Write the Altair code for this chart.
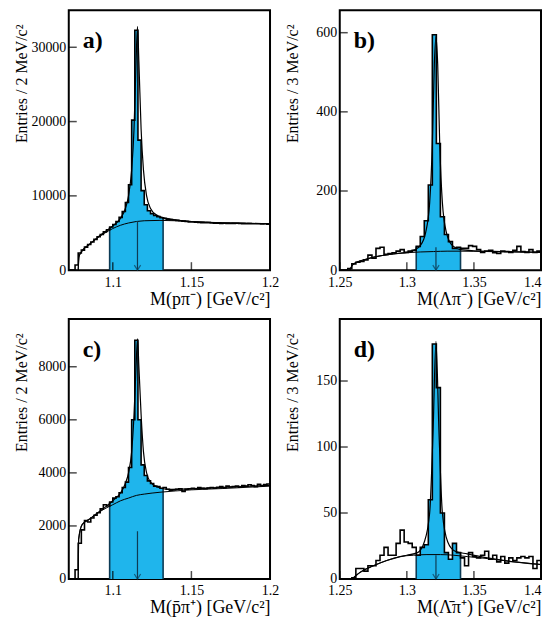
import altair as alt
import pandas as pd

FONT = "Liberation Serif"
BLUE = "#1fb5ec"
EDGE = "#0d3b55"

# ---------------- panel a: M(p pi-) , 2 MeV bins ----------------
a_start, a_width = 1.072, 0.002
a_counts = [0, 0, 700, 2300, 2700, 3100, 3450, 3800, 4150, 4500,
            4800, 5150, 5450, 5800, 6150, 6550, 7100, 7900, 9100, 11500,
            20200, 32300, 17500, 10700, 8800, 8000, 7600, 7350, 7200, 7050,
            6950, 6850, 6800, 6750, 6700, 6650, 6600, 6550, 6500, 6480,
            6450, 6420, 6400, 6380, 6400, 6350, 6330, 6330, 6300, 6320,
            6300, 6280, 6300, 6320, 6280, 6270, 6250, 6260, 6250, 6240,
            6250, 6230, 6250, 6200]
a_window = [1.098, 1.132]
a_fit_x = [1.078, 1.0785, 1.080, 1.085, 1.090, 1.095, 1.100, 1.105, 1.108, 1.110,
           1.112, 1.1135, 1.1148, 1.1157, 1.1166, 1.118, 1.1195, 1.1215, 1.124,
           1.128, 1.135, 1.145, 1.160, 1.180, 1.200]
a_fit_y = [0, 1800, 2450, 3450, 4350, 5150, 5950, 7000, 8300, 10000,
           13500, 19000, 28000, 32800, 28000, 19000, 13500, 10000, 8300,
           7400, 6950, 6650, 6450, 6320, 6250]
a_bg_x = [1.078, 1.0785, 1.080, 1.085, 1.090, 1.095, 1.100, 1.105, 1.110, 1.115,
          1.120, 1.130, 1.140, 1.150, 1.160, 1.180, 1.200]
a_bg_y = [0, 1800, 2450, 3450, 4300, 5000, 5600, 6050, 6350, 6550,
          6650, 6700, 6650, 6550, 6450, 6330, 6250]
a_arrow = [1.1157, 6600]
a_yticks = [0, 10000, 20000, 30000]
a_xticks = [1.1, 1.15, 1.2]

# ---------------- panel b: M(Lambda pi-) , 3 MeV bins ----------------
b_start, b_width = 1.25, 0.003
b_counts = [0, 0, 4, 16, 20, 22, 26, 38, 30, 55,
            58, 40, 42, 44, 48, 52, 45, 48, 50, 60,
            85, 125, 215, 595, 320, 135, 90, 72, 55, 58,
            55, 55, 62, 60, 52, 45, 48, 50, 44, 42,
            48, 47, 45, 50, 60, 47, 45, 52, 45, 48]
b_window = [1.307, 1.340]
b_fit_x = [1.2575, 1.260, 1.270, 1.280, 1.290, 1.300, 1.305, 1.310, 1.314, 1.317,
           1.319, 1.3205, 1.3217, 1.323, 1.3245, 1.3265, 1.3295, 1.334, 1.340,
           1.350, 1.370, 1.400]
b_fit_y = [0, 15, 28, 36, 41, 45, 50, 62, 95, 170,
           320, 520, 590, 520, 320, 170, 95, 62, 52,
           49, 47, 45]
b_bg_x = [1.2575, 1.260, 1.270, 1.280, 1.290, 1.300, 1.310, 1.320, 1.330, 1.340,
          1.360, 1.380, 1.400]
b_bg_y = [0, 15, 28, 36, 41, 44, 46, 47, 48, 48, 47, 46, 45]
b_arrow = [1.3217, 58]
b_yticks = [0, 200, 400, 600]
b_xticks = [1.25, 1.3, 1.35, 1.4]

# ---------------- panel c: M(pbar pi+) , 2 MeV bins ----------------
c_start, c_width = 1.072, 0.002
c_counts = [0, 0, 350, 1350, 1850, 2200, 2150, 2300, 2400, 2500,
            2650, 2800, 2750, 2900, 3050, 3100, 3250, 3450, 3650, 4200,
            6000, 9000, 6000, 4300, 3900, 3700, 3600, 3500, 3480, 3420,
            3450, 3380, 3350, 3360, 3380, 3400, 3300, 3380, 3400, 3420,
            3400, 3450, 3420, 3400, 3430, 3450, 3420, 3460, 3480, 3440,
            3500, 3470, 3480, 3500, 3460, 3520, 3500, 3550, 3520, 3480,
            3570, 3520, 3560, 3580]
c_window = [1.098, 1.132]
c_fit_x = [1.078, 1.0783, 1.0805, 1.085, 1.090, 1.095, 1.100, 1.105, 1.108, 1.110,
           1.112, 1.1135, 1.1148, 1.1157, 1.1166, 1.118, 1.1195, 1.1215, 1.124,
           1.128, 1.135, 1.150, 1.170, 1.200]
c_fit_y = [0, 1500, 2050, 2250, 2480, 2700, 2950, 3250, 3600, 4000,
           4800, 6200, 8000, 9050, 8000, 6200, 4800, 4000, 3650,
           3480, 3380, 3400, 3450, 3530]
c_bg_x = [1.078, 1.0783, 1.0805, 1.085, 1.090, 1.095, 1.100, 1.105, 1.110, 1.115,
          1.120, 1.130, 1.140, 1.150, 1.170, 1.200]
c_bg_y = [0, 1500, 2050, 2250, 2470, 2650, 2800, 2950, 3050, 3150,
          3200, 3270, 3320, 3360, 3410, 3500]
c_arrow = [1.1157, 1800]
c_yticks = [0, 2000, 4000, 6000, 8000]
c_xticks = [1.1, 1.15, 1.2]

# ---------------- panel d: M(Lambdabar pi+) , 3 MeV bins ----------------
d_start, d_width = 1.25, 0.003
d_counts = [0, 0, 0, 1, 8, 8, 6, 10, 10, 14,
            18, 24, 18, 18, 27, 37, 28, 27, 24, 18,
            24, 26, 60, 178, 145, 50, 20, 15, 27, 20,
            16, 10, 20, 17, 16, 18, 21, 15, 18, 13,
            17, 12, 16, 14, 16, 17, 16, 17, 8, 14]
d_window = [1.307, 1.340]
d_fit_x = [1.259, 1.265, 1.275, 1.285, 1.295, 1.300, 1.308, 1.313, 1.317, 1.3195,
           1.3217, 1.324, 1.3265, 1.3305, 1.336, 1.345, 1.360, 1.380, 1.400]
d_fit_y = [0, 5, 10, 14, 17, 18, 20, 28, 50, 110,
           180, 110, 50, 28, 21, 19, 16, 13, 11]
d_bg_x = [1.259, 1.265, 1.275, 1.285, 1.295, 1.305, 1.315, 1.325, 1.335, 1.345,
          1.360, 1.380, 1.400]
d_bg_y = [0, 5, 10, 14, 17, 18, 18.5, 18.5, 18, 17, 15.5, 13, 11]
d_arrow = [1.3217, 18]
d_yticks = [0, 50, 100, 150]
d_xticks = [1.25, 1.3, 1.35, 1.4]

W, H = 202, 261
TICK = 8


def panel(start, width, counts, window, fit_x, fit_y, bg_x, bg_y, arrow,
          xdom, ydom, xticks, yticks, xtitle, ytitle, label):
    n = len(counts)
    edges = [start + i * width for i in range(n + 1)]
    hist = pd.DataFrame({"x": edges, "y": list(counts) + [counts[-1]]})
    sig_idx = [i for i in range(n)
               if edges[i] >= window[0] - 1e-9 and edges[i + 1] <= window[1] + 1e-9]
    sig_x = [edges[i] for i in sig_idx] + [edges[sig_idx[-1] + 1]]
    sig_y = [counts[i] for i in sig_idx] + [counts[sig_idx[-1]]]
    sig = pd.DataFrame({"x": sig_x, "y": sig_y, "y0": [0] * len(sig_x)})
    walls = pd.DataFrame({"x": [sig_x[0], sig_x[-1]],
                          "y": [sig_y[0], sig_y[-1]], "y0": [0, 0]})
    fit = pd.DataFrame({"x": fit_x, "y": fit_y})
    bg = pd.DataFrame({"x": bg_x, "y": bg_y})
    arr = pd.DataFrame({"x": [arrow[0]], "y": [arrow[1]], "y0": [0]})
    xt = pd.DataFrame({"v": xticks})
    yt = pd.DataFrame({"v": yticks})

    xs = alt.Scale(domain=xdom, nice=False, zero=False)
    ys = alt.Scale(domain=ydom, nice=False, zero=False)
    xax = alt.Axis(values=xticks, format=".2~f", labelFlush=False, labelOverlap=False,
                   labelAlign={"condition": {"test": "datum.value >= 1.399", "value": "right"},
                               "value": "center"},
                   ticks=False, domain=False, grid=False,
                   labelFont=FONT, labelFontSize=14, labelColor="black", labelPadding=5,
                   title=xtitle, titleFont=FONT, titleFontSize=18, titleFontWeight="normal",
                   titleColor="black", titleAnchor="end", titlePadding=1)
    yax = alt.Axis(values=yticks, format="d", ticks=False, domain=False, grid=False,
                   labelFont=FONT, labelFontSize=14, labelColor="black", labelPadding=3,
                   title=ytitle, titleFont=FONT, titleFontSize=16, titleFontWeight="normal",
                   titleColor="black", titleAngle=270, titleAlign="right",
                   titleBaseline="alphabetic", titleX=-42, titleY=14)

    fill = alt.Chart(sig).mark_area(color=BLUE, interpolate="step-after", clip=True).encode(
        x=alt.X("x:Q", scale=xs, axis=xax),
        y=alt.Y("y0:Q", scale=ys, axis=yax), y2="y:Q")
    wall = alt.Chart(walls).mark_rule(color=EDGE, strokeWidth=1.6, clip=True).encode(
        x="x:Q", y="y0:Q", y2="y:Q")
    step = alt.Chart(hist).mark_line(interpolate="step-after", color="black",
                                     strokeWidth=1.6, clip=True).encode(x="x:Q", y="y:Q")
    bgl = alt.Chart(bg).mark_line(interpolate="monotone", color="black",
                                  strokeWidth=1.0, clip=True).encode(x="x:Q", y="y:Q")
    fitl = alt.Chart(fit).mark_line(interpolate="monotone", color="black",
                                    strokeWidth=1.2, clip=True).encode(x="x:Q", y="y:Q")
    shaft = alt.Chart(arr).mark_rule(color=EDGE, strokeWidth=1.2).encode(
        x="x:Q", y="y0:Q", y2="y:Q")
    head = alt.Chart(arr).mark_point(shape="M -1 -1.6 L 0 0 L 1 -1.6", size=40,
                                     filled=False, color=EDGE, strokeWidth=1.2).encode(
        x="x:Q", y="y0:Q")
    xtick = alt.Chart(xt).mark_tick(orient="vertical", size=TICK, thickness=1.5,
                                    color="black").encode(x="v:Q", y=alt.value(H - TICK / 2))
    ytick = alt.Chart(yt).mark_tick(orient="horizontal", size=TICK, thickness=1.5,
                                    color="black").encode(y="v:Q", x=alt.value(TICK / 2))
    txt = alt.Chart(arr).mark_text(text=label, font=FONT, fontSize=24, fontWeight="bold",
                                   align="left", baseline="alphabetic", color="black").encode(
        x=alt.value(14), y=alt.value(38))
    return alt.layer(fill, wall, step, bgl, fitl, shaft, head, xtick, ytick, txt).properties(
        width=W, height=H, view=alt.ViewBackground(stroke="black", strokeWidth=2, fill="white"))


pa = panel(a_start, a_width, a_counts, a_window, a_fit_x, a_fit_y, a_bg_x, a_bg_y, a_arrow,
           [1.072, 1.2], [0, 35000], a_xticks, a_yticks,
           "M(pπ⁻) [GeV/c²]", "Entries / 2 MeV/c²", "a)")
pb = panel(b_start, b_width, b_counts, b_window, b_fit_x, b_fit_y, b_bg_x, b_bg_y, b_arrow,
           [1.25, 1.4], [0, 657], b_xticks, b_yticks,
           "M(Λπ⁻) [GeV/c²]", "Entries / 3 MeV/c²", "b)")
pc = panel(c_start, c_width, c_counts, c_window, c_fit_x, c_fit_y, c_bg_x, c_bg_y, c_arrow,
           [1.072, 1.2], [0, 9800], c_xticks, c_yticks,
           "M(p̄π⁺) [GeV/c²]", "Entries / 2 MeV/c²", "c)")
pd_ = panel(d_start, d_width, d_counts, d_window, d_fit_x, d_fit_y, d_bg_x, d_bg_y, d_arrow,
            [1.25, 1.4], [0, 197], d_xticks, d_yticks,
            "M(Λ̄π⁺) [GeV/c²]", "Entries / 3 MeV/c²", "d)")

chart = alt.concat(pa, pb, pc, pd_, columns=2,
                   spacing={"row": 9, "column": 4}).properties(
    padding={"left": 5, "top": 0, "right": 0, "bottom": 0}
).configure(background="white")

chart.save("out.html", embed_options={"renderer": "svg", "actions": False})
